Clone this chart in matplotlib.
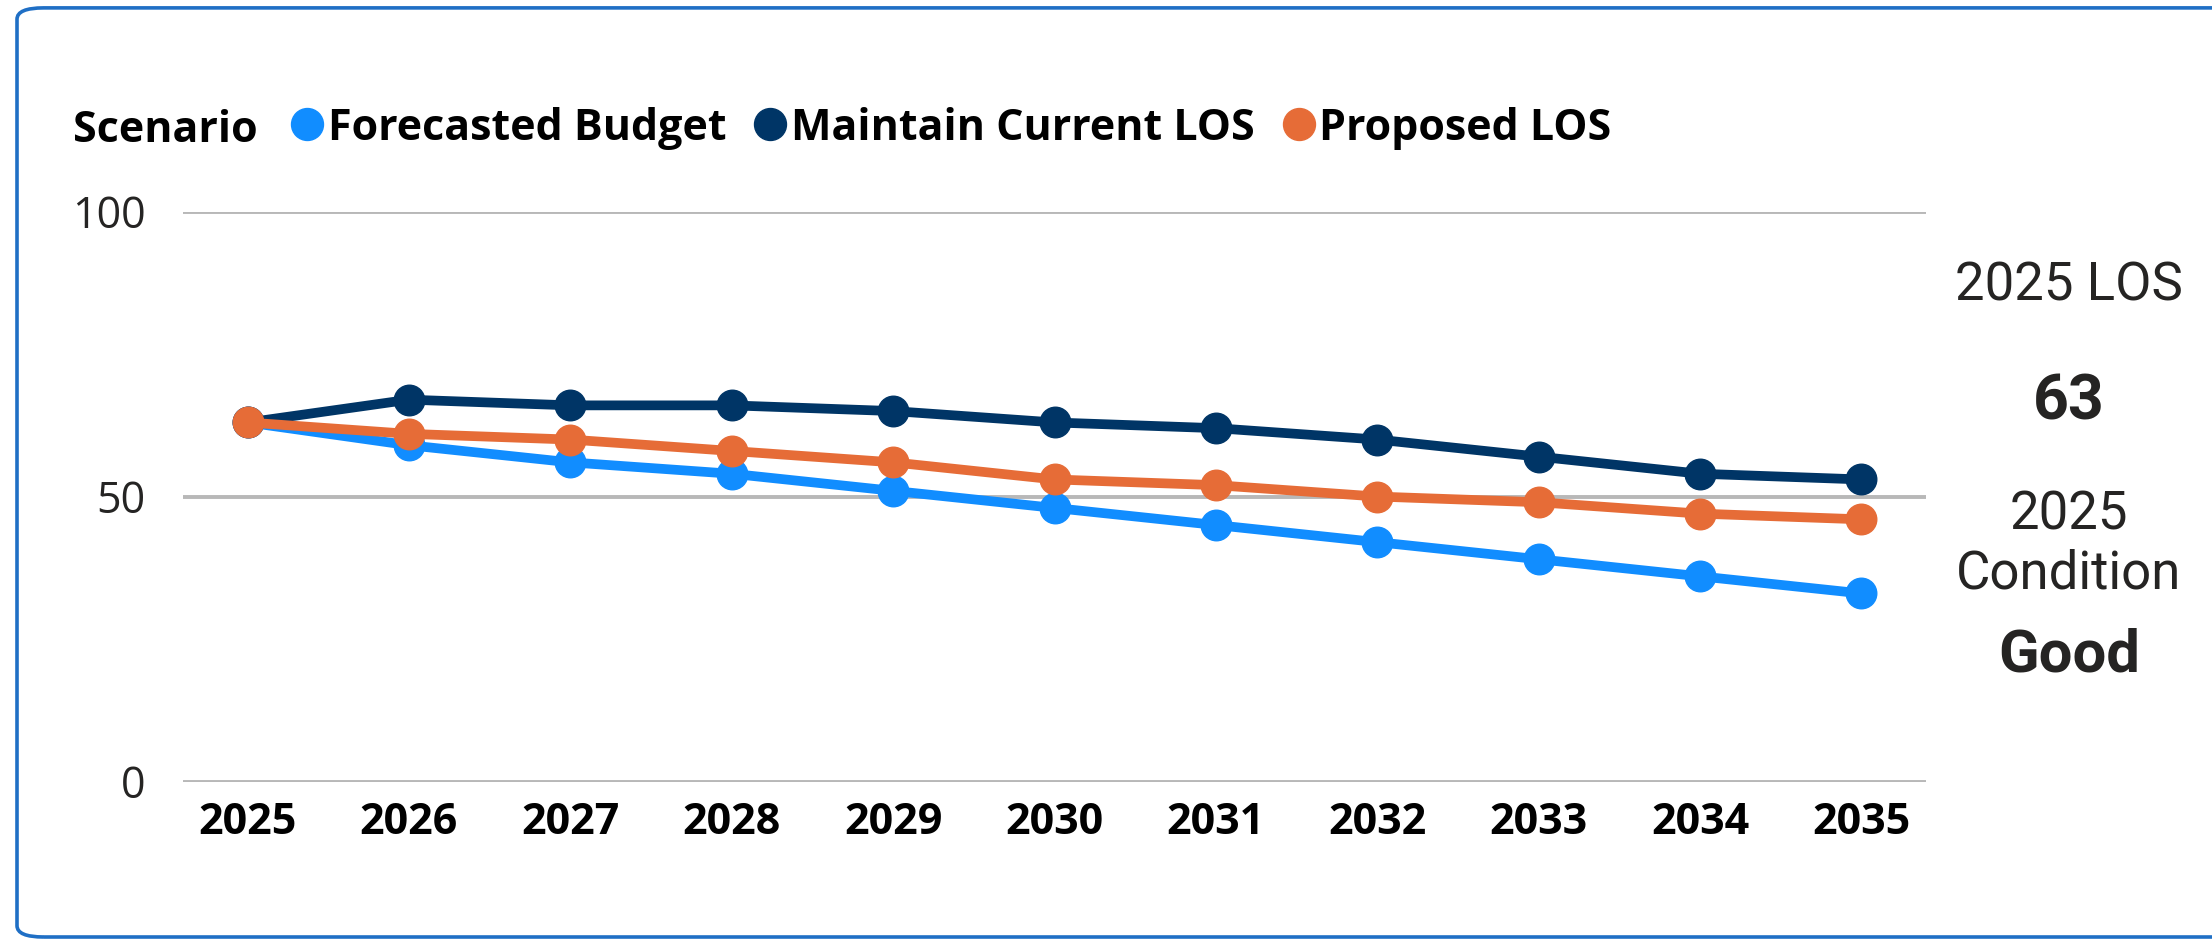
import matplotlib
matplotlib.use("Agg")
import matplotlib.pyplot as plt
from matplotlib.patches import FancyBboxPatch
from matplotlib.lines import Line2D

# --- Data ---
years = ["2025", "2026", "2027", "2028", "2029", "2030",
         "2031", "2032", "2033", "2034", "2035"]
forecasted_budget = [63, 59, 56, 54, 51, 48, 45, 42, 39, 36, 33]
maintain_current_los = [63, 67, 66, 66, 65, 63, 62, 60, 57, 54, 53]
proposed_los = [63, 61, 60, 58, 56, 53, 52, 50, 49, 47, 46]

series_names = ["Forecasted Budget", "Maintain Current LOS", "Proposed LOS"]
series_colors = ["#118DFF", "#003566", "#E66C37"]
y_ticks = [0, 50, 100]

# --- Side card text ---
los_label = "2025 LOS"
los_value = "63"
cond_year = "2025"
cond_label = "Condition"
cond_value = "Good"

plt.rcParams['font.family'] = ['Open Sans', 'DejaVu Sans']

W, H, DPI = 2212, 944, 100
fig = plt.figure(figsize=(W / DPI, H / DPI), dpi=DPI)
fig.patch.set_facecolor('white')

# rounded card border (runs off the right edge)
border = FancyBboxPatch((17 / W, 7 / H), 1.2, (938 - 7) / H - 0.002,
                        boxstyle="round,pad=0,rounding_size=0.012",
                        transform=fig.transFigure, fill=False,
                        edgecolor='#1f6fc5', linewidth=2.6, clip_on=False)
fig.patches.append(border)

ax = fig.add_axes([183 / W, 1 - 781.5 / H, (1926 - 183) / W, (781.5 - 211.6) / H])
x = list(range(len(years)))

for vals, name, col in zip([forecasted_budget, maintain_current_los, proposed_los],
                           series_names, series_colors):
    ax.plot(x, vals, color=col, linewidth=7, marker='o', markersize=22,
            label=name, clip_on=False, zorder=3, solid_capstyle='round')

ax.set_xlim(-0.4, len(years) - 0.6)
ax.set_ylim(0, 100)
ax.set_yticks(y_ticks)
ax.set_xticks(x)
ax.set_xticklabels(years)
ax.grid(axis='y', color='#b8b8b8', linewidth=2.8, zorder=0)
ax.set_axisbelow(True)
for spine in ax.spines.values():
    spine.set_visible(False)
ax.tick_params(axis='both', length=0)
ax.tick_params(axis='y', pad=27, labelsize=31, labelcolor='#252423')
ax.tick_params(axis='x', pad=14, labelsize=31, labelcolor='#000000')
for lbl in ax.get_xticklabels():
    lbl.set_fontweight('bold')

# legend row
fig.text(73 / W, 1 - 130 / H, "Scenario", fontsize=31, fontweight='bold',
         va='center', ha='left', color='black')
handles = [Line2D([], [], linestyle='none', marker='o', markersize=23,
                  color=c) for c in series_colors]
fig.legend(handles, series_names, loc='center left',
           bbox_to_anchor=(291 / W, 1 - 128 / H), ncol=3, frameon=False,
           prop={'size': 31, 'weight': 'bold'}, handlelength=0.75,
           handletextpad=0.1, columnspacing=0.65, borderpad=0,
           borderaxespad=0)

# side card
cx = 2069 / W
side_font = ['Roboto', 'DejaVu Sans']
fig.text(cx, 1 - 286 / H, los_label, fontsize=38, family=side_font,
         ha='center', va='center', color='#252423')
fig.text(cx, 1 - 402 / H, los_value, fontsize=45, family=side_font,
         fontweight='bold', ha='center', va='center', color='#252423')
fig.text(cx, 1 - 515 / H, cond_year, fontsize=38, family=side_font,
         ha='center', va='center', color='#252423')
fig.text(cx, 1 - 574 / H, cond_label, fontsize=38, family=side_font,
         ha='center', va='center', color='#252423')
fig.text(cx, 1 - 656 / H, cond_value, fontsize=43, family=side_font,
         fontweight='bold', ha='center', va='center', color='#252423')

fig.savefig("out.png", dpi=DPI)
